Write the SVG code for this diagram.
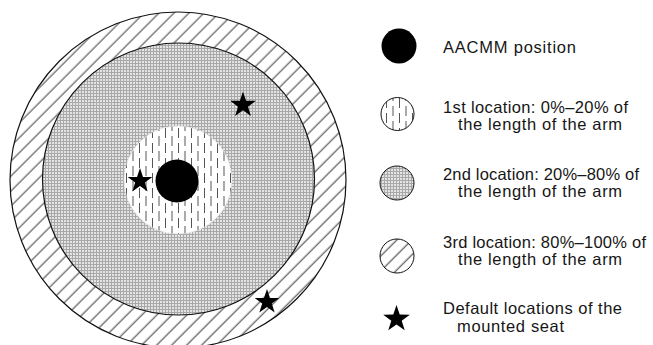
<svg xmlns="http://www.w3.org/2000/svg" width="653" height="345" viewBox="0 0 653 345">
<style>
.ring{stroke:#111;stroke-width:1.2}
.lbl{font-family:"Liberation Sans",Arial,sans-serif;font-size:16.5px;fill:#161616}
.star{fill:#000}
</style>
<defs>
<pattern id="diag" patternUnits="userSpaceOnUse" width="10.6" height="10.6" patternTransform="rotate(45)">
<rect width="10.6" height="10.6" fill="#fff"/>
<line x1="5" y1="0" x2="5" y2="10.6" stroke="#222" stroke-width="0.9"/>
</pattern>
<pattern id="grey" patternUnits="userSpaceOnUse" width="3" height="3">
<rect width="3" height="3" fill="#e4e4e4"/>
<rect width="3" height="1" fill="#a8a8a8"/>
<rect width="1" height="3" fill="#a8a8a8"/>
</pattern>
<pattern id="dash" patternUnits="userSpaceOnUse" width="13" height="15">
<rect width="13" height="15" fill="#fff"/>
<g stroke="#555" stroke-width="1">
<line x1="3" y1="1" x2="3" y2="11"/>
<line x1="9.5" y1="8" x2="9.5" y2="15"/>
<line x1="9.5" y1="0" x2="9.5" y2="3"/>
</g>
</pattern>
<path id="st" d="M0,-10 L2.29,-3.16 L9.51,-3.09 L3.71,1.21 L5.88,8.09 L0,3.9 L-5.88,8.09 L-3.71,1.21 L-9.51,-3.09 L-2.29,-3.16 Z"/>
</defs>
<rect width="653" height="345" fill="#fff"/>
<g id="zone3">
<circle class="ring" cx="178" cy="180" r="168" fill="url(#diag)"/>
</g>
<g id="zone2">
<circle class="ring" cx="178.5" cy="179" r="136" fill="url(#grey)"/>
</g>
<g id="zone1">
<circle cx="178" cy="180" r="54" fill="url(#dash)" stroke="#ddd" stroke-width="0.6"/>
</g>
<g id="aacmm">
<circle cx="177" cy="181" r="21.5" fill="#000"/>
</g>
<g id="seats">
<use href="#st" class="star" transform="translate(243,105) scale(1.35)"/>
<use href="#st" class="star" transform="translate(140,181) scale(1.3)"/>
<use href="#st" class="star" transform="translate(267,302) scale(1.3)"/>
</g>
<g id="legend-aacmm">
<circle cx="399" cy="46" r="17.5" fill="#000"/>
<text class="lbl" x="443" y="53" textLength="133" lengthAdjust="spacing">AACMM position</text>
</g>
<g id="legend-1st">
<circle cx="397.5" cy="114" r="16.5" fill="url(#dash)" stroke="#111" stroke-width="1"/>
<text class="lbl" x="443" y="113" textLength="185" lengthAdjust="spacing">1st location: 0%–20% of</text>
<text class="lbl" x="458" y="129.5" textLength="164" lengthAdjust="spacing">the length of the arm</text>
</g>
<g id="legend-2nd">
<circle cx="397" cy="183" r="17" fill="url(#grey)" stroke="#111" stroke-width="1"/>
<text class="lbl" x="443" y="180" textLength="196" lengthAdjust="spacing">2nd location: 20%–80% of</text>
<text class="lbl" x="458" y="196.5" textLength="164" lengthAdjust="spacing">the length of the arm</text>
</g>
<g id="legend-3rd">
<circle cx="397" cy="256" r="17" fill="url(#diag)" stroke="#111" stroke-width="1"/>
<text class="lbl" x="443" y="248" textLength="203" lengthAdjust="spacing">3rd location: 80%–100% of</text>
<text class="lbl" x="458" y="264.5" textLength="164" lengthAdjust="spacing">the length of the arm</text>
</g>
<g id="legend-seat">
<use href="#st" class="star" transform="translate(396.5,319) scale(1.4)"/>
<text class="lbl" x="443" y="314" textLength="179" lengthAdjust="spacing">Default locations of the</text>
<text class="lbl" x="457" y="331.5" textLength="107" lengthAdjust="spacing">mounted seat</text>
</g>
</svg>
